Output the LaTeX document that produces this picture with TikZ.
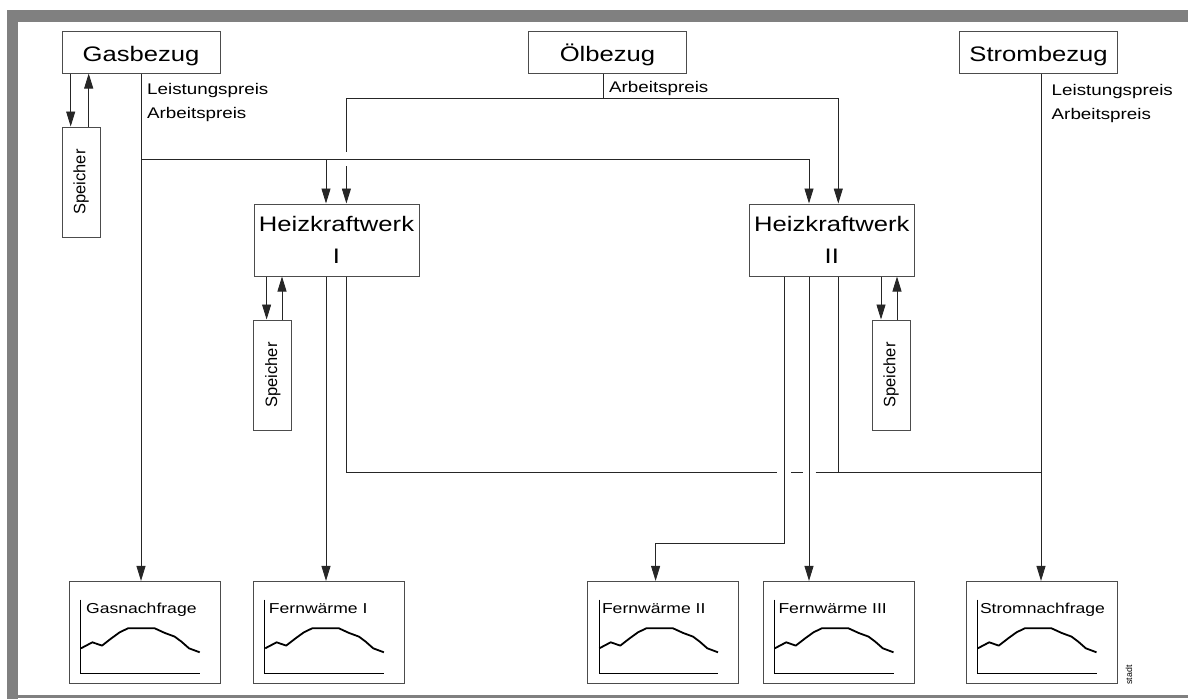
\documentclass[tikz,border=0pt]{standalone}
\usepackage{fontspec}
\setmainfont{Liberation Sans}
\usetikzlibrary{arrows.meta}
\newcommand{\xwide}[1]{\scalebox{1.22}[1]{#1}}
\definecolor{framegray}{HTML}{808080}
\tikzset{
  box/.style={draw=black!70, line width=1pt, inner sep=0pt},
  topbox/.style={box, minimum width=158pt, minimum height=42pt, font=\fontsize{21}{25}\selectfont, text height=19pt, text depth=0pt},
  plant/.style={box, minimum width=165pt, minimum height=72pt, align=center, font=\fontsize{21}{32}\selectfont},
  store/.style={box, minimum width=38pt, minimum height=110pt, font=\fontsize{16.5}{18}\selectfont},
  demand/.style={box, minimum width=151pt, minimum height=102pt},
  conn/.style={draw=black!85, line width=0.9pt},
  arr/.style={conn, -{Triangle[length=15pt,width=9pt]}},
  lbl/.style={inner sep=0pt, anchor=base west, font=\fontsize{15.4}{18}\selectfont},
  dlbl/.style={inner sep=0pt, anchor=base west, font=\fontsize{14.4}{17}\selectfont},
  chart/.pic={
    \draw[black, line width=0.9pt] (11.7,-84.3) -- (11.7,-10) -- (130.7,-10);
    \draw[black, line width=1.8pt, line join=round] (12,-35.6) -- (23.4,-41.6) -- (33,-38.3) -- (42.4,-45.6) -- (50.7,-51.6) -- (59,-55.6) -- (85.7,-55.6) -- (95.7,-51) -- (105.7,-47.3) -- (112.4,-42.3) -- (120,-35.6) -- (130.7,-31.6);
  }
}
\begin{document}
\begin{tikzpicture}[x=1pt,y=-1pt]
\useasboundingbox (0,0) rectangle (1188,699);
% frame
\fill[framegray] (7,10) rectangle (1188,22);
\fill[framegray] (7,10) rectangle (18,699);
\fill[framegray] (18,695) rectangle (1188,698);

% supply boxes
\node[topbox] (gas) at (141,52) {\xwide{Gasbezug}};
\node[topbox] (oil) at (607.5,52) {\xwide{Ölbezug}};
\node[topbox] (str) at (1038.5,52) {\xwide{Strombezug}};

% plants
\node[plant] (h1) at (336.5,240) {\xwide{Heizkraftwerk}\\\xwide{I}};
\node[plant] (h2) at (831.8,240) {\xwide{Heizkraftwerk}\\\xwide{II}};

% storages
\node[store] (sg) at (81,182) {\rotatebox{90}{Speicher}};
\node[store] (s1) at (272.8,375) {\rotatebox{90}{Speicher}};
\node[store] (s2) at (891,375) {\rotatebox{90}{Speicher}};

% demand boxes
\node[demand] (gn) at (145,632.4) {};
\node[demand] (f1) at (329.2,632.4) {};
\node[demand] (f2) at (663.3,632.4) {};
\node[demand] (f3) at (838.8,632.4) {};
\node[demand] (sn) at (1041.8,632.4) {};
\pic at (gn.south west) {chart};
\pic at (f1.south west) {chart};
\pic at (f2.south west) {chart};
\pic at (f3.south west) {chart};
\pic at (sn.south west) {chart};
\node[dlbl] (gnl) at ([shift={(17,-70)}]gn.south west) {\xwide{Gasnachfrage}};
\node[dlbl] (f1l) at ([shift={(15.5,-70)}]f1.south west) {\xwide{Fernwärme I}};
\node[dlbl] (f2l) at ([shift={(14.5,-70)}]f2.south west) {\xwide{Fernwärme II}};
\node[dlbl] (f3l) at ([shift={(15.5,-70)}]f3.south west) {\xwide{Fernwärme III}};
\node[dlbl] (snl) at ([shift={(14,-70)}]sn.south west) {\xwide{Stromnachfrage}};

% price labels
\node[lbl] (lg1) at (147,94.3) {\xwide{Leistungspreis}};
\node[lbl] (lg2) at (147,118.5) {\xwide{Arbeitspreis}};
\node[lbl] (lo) at (609,92.5) {\xwide{Arbeitspreis}};
\node[lbl] (ls1) at (1051.5,95) {\xwide{Leistungspreis}};
\node[lbl] (ls2) at (1051.5,119.2) {\xwide{Arbeitspreis}};

\node[rotate=90, inner sep=0pt, font=\fontsize{8.8}{10}\selectfont] (stadt) at (1129,675) {stadt};

% helper coordinates
\coordinate (xa) at (70.7,0);
\coordinate (xb) at (88.7,0);
\coordinate (xg) at (141,0);
\coordinate (xs1d) at (266.6,0);
\coordinate (xs1u) at (282,0);
\coordinate (xh1g) at (326,0);
\coordinate (xh1o) at (346.4,0);
\coordinate (xo) at (603.5,0);
\coordinate (xh2a) at (784,0);
\coordinate (xh2g) at (809,0);
\coordinate (xh2o) at (838.3,0);
\coordinate (xs2d) at (881,0);
\coordinate (xs2u) at (897,0);
\coordinate (xst) at (1041,0);
\coordinate (yo) at (0,98.7);
\coordinate (yg) at (0,159.3);
\coordinate (ye) at (0,472);
\coordinate (yf) at (0,543);
\coordinate (gapTop) at (346.4,152.3);
\coordinate (gapBot) at (346.4,166.3);
\coordinate (g1L) at (777,472);
\coordinate (g1R) at (791,472);
\coordinate (g2L) at (802.5,472);
\coordinate (g2R) at (815.5,472);
\coordinate (jog) at (655.6,543);

% gas
\draw[arr] (gas.south -| xa) -- (sg.north -| xa);
\draw[arr] (sg.north -| xb) -- (gas.south -| xb);
\draw[arr] (gas.south -| xg) -- (gn.north -| xg);
\draw[arr] (xg |- yg) -- (xh2g |- yg) -- (h2.north -| xh2g);
\draw[arr] (xh1g |- yg) -- (h1.north -| xh1g);

% oil
\draw[conn] (oil.south -| xo) -- (xo |- yo);
\draw[arr] (xh1o |- yo) -- (xh2o |- yo) -- (h2.north -| xh2o);
\draw[conn] (xh1o |- yo) -- (gapTop);
\draw[arr] (gapBot) -- (h1.north -| gapBot);

% plant I
\draw[arr] (h1.south -| xs1d) -- (s1.north -| xs1d);
\draw[arr] (s1.north -| xs1u) -- (h1.south -| xs1u);
\draw[arr] (h1.south -| xh1g) -- (f1.north -| xh1g);
\draw[conn] (h1.south -| xh1o) -- (xh1o |- ye) -- (g1L);
\draw[conn] (g1R) -- (g2L);
\draw[conn] (g2R) -- (xst |- ye);

% plant II
\draw[arr] (h2.south -| xh2a) -- (xh2a |- yf) -- (jog) -- (f2.north -| jog);
\draw[arr] (h2.south -| xh2g) -- (f3.north -| xh2g);
\draw[conn] (h2.south -| xh2o) -- (xh2o |- ye);
\draw[arr] (h2.south -| xs2d) -- (s2.north -| xs2d);
\draw[arr] (s2.north -| xs2u) -- (h2.south -| xs2u);

% electricity
\draw[arr] (str.south -| xst) -- (sn.north -| xst);
\end{tikzpicture}
\end{document}
